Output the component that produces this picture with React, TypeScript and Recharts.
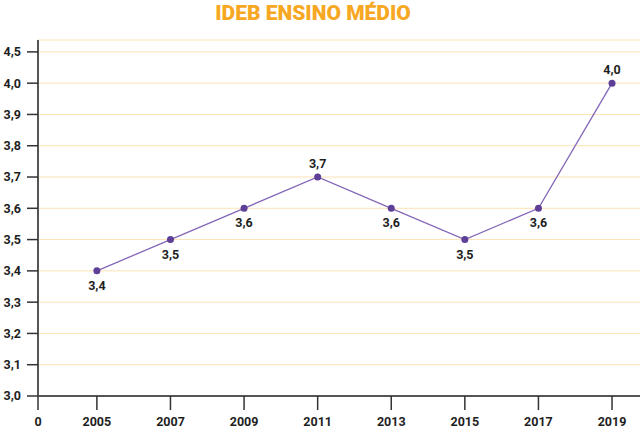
import { LineChart, Line, XAxis, YAxis, CartesianGrid, LabelList } from 'recharts';

// IDEB ensino médio, by year
const years = [2005, 2007, 2009, 2011, 2013, 2015, 2017, 2019];
const ideb = [3.4, 3.5, 3.6, 3.7, 3.6, 3.5, 3.6, 4.0];

// y axis has a break: the top tick reads 4,5 but sits one step above 4,0
const yTicks = [3.0, 3.1, 3.2, 3.3, 3.4, 3.5, 3.6, 3.7, 3.8, 3.9, 4.0, 4.1];
const yTopLabel = '4,5';
const xOriginLabel = '0';
const xOrigin = 2003.4;

const data = years.map((y, i) => ({ year: y, value: ideb[i] }));

const fmt = (v: number) => v.toFixed(1).replace('.', ',');
const FONT = 'Roboto, "Noto Sans", sans-serif';

const PointLabel = (props: any) => {
  const { x, y, value, index } = props;
  const prev = index > 0 ? ideb[index - 1] : -Infinity;
  const next = index < ideb.length - 1 ? ideb[index + 1] : -Infinity;
  const above = value >= prev && value >= next;
  return (
    <text x={x} y={above ? y - 9 : y + 19} textAnchor="middle" fontFamily={FONT} fontWeight={700} fontSize={12.5} fill="#1e1e1e">
      {fmt(value)}
    </text>
  );
};

export default function App() {
  return (
    <div style={{ position: 'absolute', left: 0, top: 0, width: 640, height: 432, background: '#fff' }}>
      <div style={{ position: 'absolute', left: 0, top: 0, width: 626, textAlign: 'center', fontFamily: FONT, fontWeight: 900, fontSize: 21, color: '#f7a823', lineHeight: '26px' }}>
        IDEB ENSINO MÉDIO
      </div>
      <LineChart width={640} height={432} data={data} margin={{ top: 40, right: 0, bottom: 0, left: 0 }}>
        <CartesianGrid horizontal vertical={false} stroke="#fce3b6" strokeWidth={1} />
        <XAxis
          dataKey="year"
          type="number"
          domain={[xOrigin, 2019.76]}
          ticks={[xOrigin, ...years]}
          tickFormatter={(v: number) => (v < years[0] ? xOriginLabel : String(v))}
          height={36}
          tickSize={14}
          tickMargin={7}
          axisLine={{ stroke: '#555', strokeWidth: 2 }}
          tickLine={{ stroke: '#333', strokeWidth: 1.5 }}
          tick={{ fontFamily: FONT, fontWeight: 700, fontSize: 12.5, fill: '#1e1e1e' }}
          allowDataOverflow
        />
        <YAxis
          type="number"
          domain={[3.0, 4.138]}
          ticks={yTicks}
          tickFormatter={(v: number) => (v > 4.05 ? yTopLabel : fmt(v))}
          width={38}
          tickSize={11}
          tickMargin={6}
          axisLine={{ stroke: '#555', strokeWidth: 2 }}
          tickLine={{ stroke: '#333', strokeWidth: 1.5 }}
          tick={{ fontFamily: FONT, fontWeight: 700, fontSize: 12.5, fill: '#1e1e1e' }}
          interval={0}
          allowDataOverflow
        />
        <Line
          type="linear"
          dataKey="value"
          stroke="#8466b8"
          strokeWidth={1.3}
          dot={{ r: 3.5, fill: '#5e3f98', stroke: '#5e3f98', strokeWidth: 0 }}
          activeDot={false}
          isAnimationActive={false}
        >
          <LabelList dataKey="value" content={<PointLabel />} />
        </Line>
      </LineChart>
    </div>
  );
}
